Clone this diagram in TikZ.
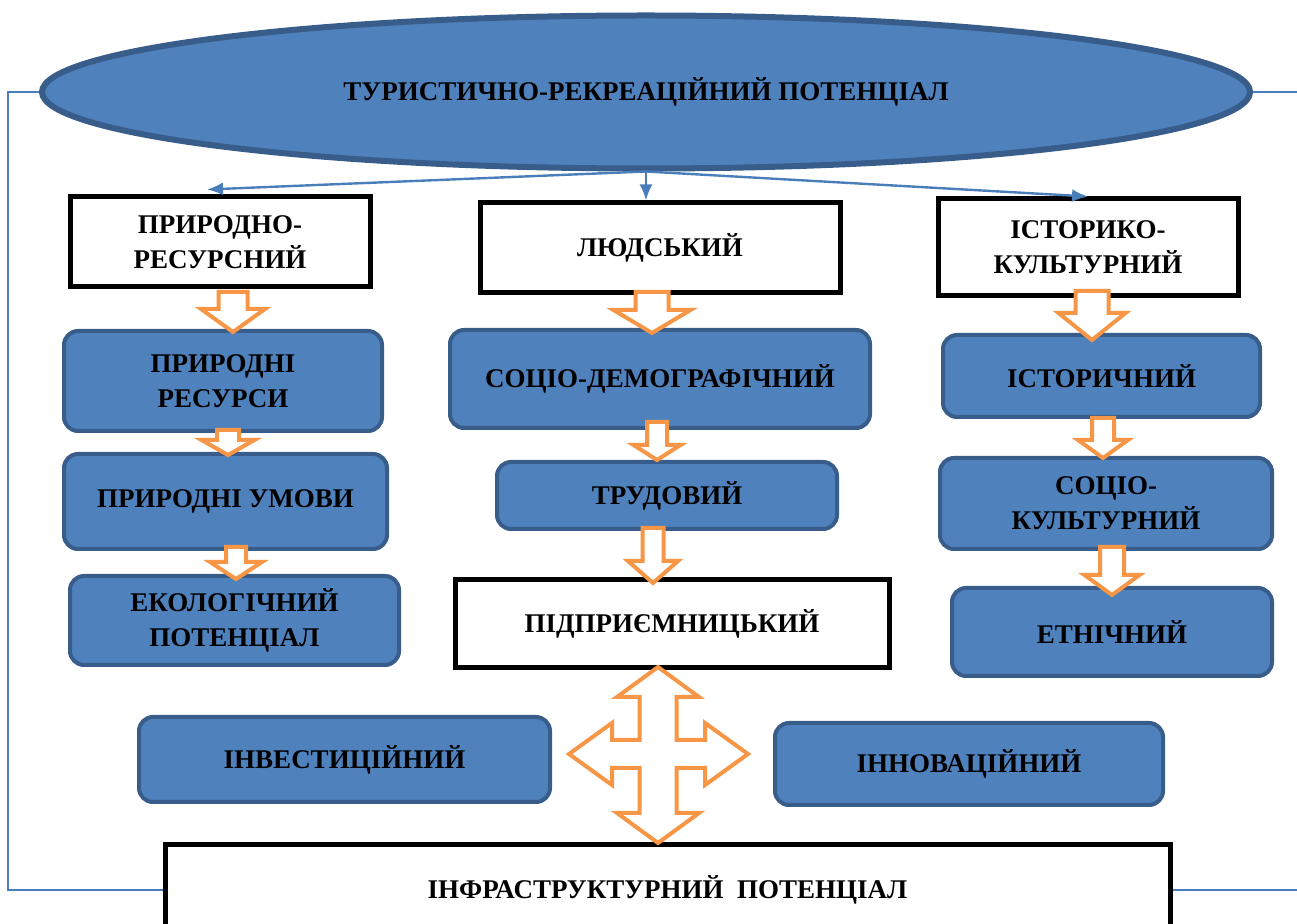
\documentclass[tikz,border=0pt]{standalone}
\usepackage{fontspec}
\setmainfont{Liberation Serif}
\usetikzlibrary{shapes.geometric,arrows.meta}
\definecolor{boxblue}{RGB}{79,129,189}
\definecolor{boxedge}{RGB}{56,93,138}
\definecolor{linkblue}{RGB}{74,126,187}
\definecolor{arroworange}{RGB}{247,150,70}
\tikzstyle{plain box}=[draw=black,line width=2.5pt,fill=white,inner sep=2pt,align=center]
\tikzstyle{blue box}=[draw=boxedge,line width=2pt,fill=boxblue,rounded corners=7pt,inner sep=2pt,align=center]
\tikzstyle{link}=[draw=linkblue,line width=1.2pt]
\tikzstyle{branch}=[link,-{Latex[length=8pt,width=6.5pt]}]
\tikzstyle{hollow}=[draw=arroworange,line width=2pt,fill=white,line join=miter]

\begin{document}
\begin{tikzpicture}[x=0.5pt,y=-0.5pt,font=\fontsize{13.5}{17.5}\selectfont\bfseries]
    \clip (0,0) rectangle (1297,924);
    \node[ellipse,draw=boxedge,line width=3pt,fill=boxblue,minimum width=604pt,minimum height=76.5pt,inner sep=0pt] (tp) at (646,92) {ТУРИСТИЧНО-РЕКРЕАЦІЙНИЙ ПОТЕНЦІАЛ};
    % white boxes
    \foreach \pos/\name/\w/\h/\txt in {{(220,242)/nr/150/45/ПРИРОДНО-\\РЕСУРСНИЙ}, {(660,248)/hum/180/45/ЛЮДСЬКИЙ}, {(1088,247.5)/hc/150/48.5/ІСТОРИКО-\\КУЛЬТУРНИЙ}, {(672,624)/ent/217/44/ПІДПРИЄМНИЦЬКИЙ}, {(667.5,890)/infra/502.5/45/ІНФРАСТРУКТУРНИЙ\ \ ПОТЕНЦІАЛ}} {
        \node[plain box,minimum width=\w pt,minimum height=\h pt] (\name) at \pos {\txt};
    }
    % blue boxes
    \foreach \pos/\name/\w/\h/\txt in {{(223,381)/nres/159/50/ПРИРОДНІ\\РЕСУРСИ}, {(225.5,501.5)/ncond/161.5/47.5/ПРИРОДНІ УМОВИ}, {(234.5,620.5)/eco/164.5/44.5/ЕКОЛОГІЧНИЙ\\ПОТЕНЦІАЛ}, {(660,379)/sd/210/49/СОЦІО-ДЕМОГРАФІЧНИЙ}, {(667,495.5)/lab/170/33.5/ТРУДОВИЙ}, {(1101.5,376)/hist/158.5/41/ІСТОРИЧНИЙ}, {(1106,503.5)/sc/166/45.5/СОЦІО-\\КУЛЬТУРНИЙ}, {(1112,632)/eth/160/44/ЕТНІЧНИЙ}, {(344.5,759.5)/inv/205.5/42.5/ІНВЕСТИЦІЙНИЙ}, {(969,764)/inn/194/41/ІННОВАЦІЙНИЙ}} {
        \node[blue box,minimum width=\w pt,minimum height=\h pt] (\name) at \pos {\txt};
    }
    % lines from the ellipse
    \draw[branch] (tp.south) -- ([xshift=-6.5pt,yshift=2.5pt]nr.north);
    \draw[branch] (tp.south) -- (tp.south |- hum.north);
    \draw[branch] (tp.south) -- (hc.north);
    \coordinate (lc) at (8,92);
    \coordinate (re) at (1297,92);
    \coordinate (be) at (1297,890);
    \draw[link] (tp.west) -- (lc) |- (infra.west);
    \draw[link] (tp.east) -- (re);
    \draw[link] (infra.east) -- (be);
    % hollow arrows
    \foreach \c/\a/\b/\s/\h/\l in {233/292/332/29/64/23, 228/430/455/22/53/15, 236/547/579/20/52/17, 652/292/333/33/77/23, 657/422/460/20/47/15, 653/528/583/21/50/22, 1092/291/340/33/67/27, 1103/418/458/22/50/18, 1112/547/595/24/55/20} {
        \draw[hollow] (\c-\s/2,\a) -- (\c+\s/2,\a) -- (\c+\s/2,\b-\l) -- (\c+\h/2,\b-\l) -- (\c,\b) -- (\c-\h/2,\b-\l) -- (\c-\s/2,\b-\l) -- cycle;
    }
    \draw[hollow] (658,667) -- (699,697) -- (676.5,697) -- (676.5,740) -- (705,740) -- (705,723) -- (748,754) -- (705,785) -- (705,768) -- (676.5,768) -- (676.5,813) -- (699,813) -- (658,843) -- (617,813) -- (639.5,813) -- (639.5,768) -- (612,768) -- (612,785) -- (569,754) -- (612,723) -- (612,740) -- (639.5,740) -- (639.5,697) -- (617,697) -- cycle;
\end{tikzpicture}
\end{document}
